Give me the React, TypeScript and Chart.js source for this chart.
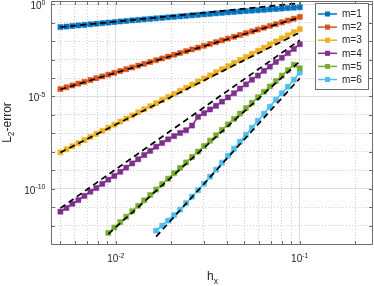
import React, { useEffect, useRef } from 'react';
import { Chart, registerables } from 'chart.js';

Chart.register(...registerables);

// grid spacing h_x (shared by all series)
const hx = [0.005, 0.005389, 0.005808, 0.00626, 0.006747, 0.007271, 0.007837, 0.008446, 0.009103, 0.009811,
  0.010574, 0.011397, 0.012283, 0.013238, 0.014267, 0.015377, 0.016572, 0.017861, 0.01925, 0.020747,
  0.022361, 0.0241, 0.025974, 0.027994, 0.030171, 0.032517, 0.035046, 0.037771, 0.040709, 0.043874,
  0.047287, 0.050964, 0.054928, 0.0592, 0.063803, 0.068765, 0.074113, 0.079877, 0.086089, 0.092784, 0.1];

// L2 errors per order m (series m=5 starts at hx[8], m=6 at hx[16])
const errM1 = [0.0575, 0.0617, 0.0662, 0.071, 0.0762, 0.0818, 0.0877, 0.0941, 0.101, 0.1084, 0.1163, 0.1248,
  0.1339, 0.1425, 0.1517, 0.1615, 0.1719, 0.183, 0.1948, 0.2073, 0.2207, 0.2349, 0.25, 0.2661, 0.2832, 0.3015,
  0.3209, 0.3415, 0.3635, 0.3833, 0.4041, 0.4261, 0.4493, 0.4737, 0.4995, 0.5267, 0.5553, 0.5855, 0.6174,
  0.651, 0.6864];
const errM2 = [2.52e-5, 3.15e-5, 3.95e-5, 4.95e-5, 6.2e-5, 7.76e-5, 9.72e-5, 1.217e-4, 1.524e-4, 1.909e-4,
  2.391e-4, 2.994e-4, 3.75e-4, 4.697e-4, 5.882e-4, 7.367e-4, 9.226e-4, 1.155e-3, 1.447e-3, 1.812e-3, 2.27e-3,
  2.843e-3, 3.56e-3, 4.459e-3, 5.584e-3, 6.994e-3, 8.759e-3, 1.097e-2, 1.374e-2, 1.721e-2, 2.155e-2, 2.699e-2,
  3.38e-2, 4.233e-2, 5.302e-2, 6.64e-2, 8.316e-2, 0.1041, 0.1304, 0.1633, 0.2046];
const errM3 = [9.25e-9, 1.358e-8, 1.995e-8, 2.931e-8, 4.306e-8, 6.34e-8, 9.31e-8, 1.368e-7, 2.01e-7, 2.952e-7,
  4.34e-7, 6.37e-7, 9.36e-7, 1.375e-6, 2.02e-6, 2.97e-6, 4.36e-6, 6.41e-6, 9.42e-6, 1.384e-5, 2.033e-5, 2.99e-5,
  4.39e-5, 6.45e-5, 9.46e-5, 1.39e-4, 2.046e-4, 3.006e-4, 4.416e-4, 6.49e-4, 9.53e-4, 1.4e-3, 2.056e-3, 3.02e-3,
  4.436e-3, 6.52e-3, 9.59e-3, 1.409e-2, 2.07e-2, 3.041e-2, 4.467e-2];
const errM4 = [5.68e-12, 8.99e-12, 1.517e-11, 2.404e-11, 4.055e-11, 6.84e-11, 1.084e-10, 1.828e-10, 3.083e-10,
  4.887e-10, 8.24e-10, 1.387e-9, 2.339e-9, 3.945e-9, 6.65e-9, 1.122e-8, 1.892e-8, 2.999e-8, 4.753e-8, 7.08e-8,
  1.054e-7, 1.472e-7, 2.649e-7, 7.82e-7, 1.239e-6, 1.963e-6, 3.112e-6, 5.248e-6, 8.85e-6, 1.493e-5, 2.679e-5,
  4.519e-5, 8.11e-5, 1.368e-4, 2.455e-4, 4.14e-4, 7.43e-4, 1.253e-3, 2.249e-3, 3.793e-3, 6.81e-3];
const errM5 = [3.98e-13, 7.83e-13, 1.545e-12, 3.041e-12, 5.98e-12, 1.178e-11, 2.317e-11, 4.56e-11, 8.97e-11,
  1.77e-10, 3.483e-10, 6.85e-10, 1.349e-9, 2.655e-9, 5.22e-9, 1.028e-8, 2.028e-8, 3.99e-8, 7.85e-8, 1.545e-7,
  3.041e-7, 5.98e-7, 1.18e-6, 2.323e-6, 4.571e-6, 8.99e-6, 1.77e-5, 3.483e-5, 6.85e-5, 1.352e-4, 2.661e-4,
  5.236e-4, 3.373e-4];
const errM6 = [5.31e-13, 9.91e-13, 1.849e-12, 3.664e-12, 7.28e-12, 1.641e-11, 3.69e-11, 8.3e-11, 1.866e-10,
  4.467e-10, 1.069e-9, 2.559e-9, 6.14e-9, 1.469e-8, 3.516e-8, 8.41e-8, 2.014e-7, 4.83e-7, 1.156e-6, 2.767e-6,
  6.62e-6, 1.489e-5, 3.35e-5, 8.04e-5, 1.995e-4];

const seriesErr = [errM1, errM2, errM3, errM4, errM5, errM6];
const seriesStart = [0, 0, 0, 0, 8, 16];
const seriesLabels = ['m=1', 'm=2', 'm=3', 'm=4', 'm=5', 'm=6'];
const seriesColors = ['#0072BD', '#D95319', '#EDB120', '#7E2F8E', '#77AC30', '#4DBEEE'];

// dashed reference slopes (two end points each)
const refStartH = [0.005, 0.005, 0.005, 0.005, 0.009103, 0.016572];
const refEndH = [0.1, 0.1, 0.1, 0.1, 0.1, 0.1];
const refStartErr = [0.0575, 2.4e-5, 9.25e-9, 8.79e-12, 3.43e-13, 2.51e-13];
const refEndErr = [1.15, 0.192, 0.0296, 1.125e-2, 7.98e-4, 9.7e-5];

// axes
const xMin = 0.0045, xMax = 0.25, yMin = 1e-13, yMax = 1.5;
const xTickValues = [0.005, 0.006, 0.007, 0.008, 0.009, 0.01, 0.02, 0.03, 0.04, 0.05, 0.06, 0.07, 0.08, 0.09, 0.1, 0.2];
const xMajorValues = [0.01, 0.1];
const xTickExps = ['-2', '-1'];
const yTickValues = [1e-13, 1e-12, 1e-11, 1e-10, 1e-9, 1e-8, 1e-7, 1e-6, 1e-5, 1e-4, 1e-3, 1e-2, 1e-1, 1];
const yMajorValues = [1, 1e-5, 1e-10];
const yTickExps = ['0', '-5', '-10'];

const FONT = '"Liberation Sans", Arial, Helvetica, sans-serif';
const TEXT = '#262626';
const AXIS = '#6f6f6f';
const GRID_MAJOR = 'rgba(38,38,38,0.15)';
const GRID_MINOR = 'rgba(38,38,38,0.22)';

const near = (a: number, b: number) => Math.abs(Math.log10(a) - Math.log10(b)) < 1e-6;
const isMajor = (v: number, list: number[]) => list.some((m) => near(v, m));

function drawPow(ctx: CanvasRenderingContext2D, exp: string, x: number, baseY: number, align: 'center' | 'right') {
  ctx.font = `10px ${FONT}`;
  const wb = ctx.measureText('10').width;
  ctx.font = `7px ${FONT}`;
  const we = ctx.measureText(exp).width;
  const total = wb + we;
  const x0 = align === 'center' ? x - total / 2 : x - total;
  ctx.textAlign = 'left';
  ctx.textBaseline = 'alphabetic';
  ctx.font = `10px ${FONT}`;
  ctx.fillText('10', x0, baseY);
  ctx.font = `7px ${FONT}`;
  ctx.fillText(exp, x0 + wb, baseY - 4.5);
}

const decorPlugin = {
  id: 'decor',
  afterDraw(chart: any) {
    const { ctx, chartArea: a, scales } = chart;
    const xs = scales.x, ys = scales.y;
    ctx.save();
    // frame
    ctx.strokeStyle = AXIS;
    ctx.lineWidth = 1;
    const L = Math.round(a.left) - 0.5, R = Math.round(a.right) - 0.5;
    const T = Math.round(a.top) + 0.5, B = Math.round(a.bottom) + 0.5;
    ctx.beginPath();
    ctx.rect(L, T, R - L, B - T);
    ctx.stroke();
    // inward ticks
    ctx.beginPath();
    xTickValues.forEach((v) => {
      const px = Math.round(xs.getPixelForValue(v)) + 0.5;
      ctx.moveTo(px, B); ctx.lineTo(px, B - 3.5);
      ctx.moveTo(px, T); ctx.lineTo(px, T + 3.5);
    });
    yTickValues.forEach((v) => {
      const py = Math.round(ys.getPixelForValue(v)) + 0.5;
      ctx.moveTo(L, py); ctx.lineTo(L + 3.5, py);
      ctx.moveTo(R, py); ctx.lineTo(R - 3.5, py);
    });
    ctx.stroke();
    // tick labels
    ctx.fillStyle = TEXT;
    xMajorValues.forEach((v, i) => drawPow(ctx, xTickExps[i], xs.getPixelForValue(v), 262, 'center'));
    yMajorValues.forEach((v, i) => drawPow(ctx, yTickExps[i], 45.5, ys.getPixelForValue(v) + 5, 'right'));
    // x title h_x
    ctx.textAlign = 'left';
    ctx.textBaseline = 'alphabetic';
    ctx.font = `12px ${FONT}`;
    const wh = ctx.measureText('h').width;
    ctx.font = `8.5px ${FONT}`;
    const wx = ctx.measureText('x').width;
    const cx = (a.left + a.right) / 2;
    const hx0 = cx - (wh + wx) / 2;
    ctx.font = `12px ${FONT}`;
    ctx.fillText('h', hx0, 280);
    ctx.font = `8.5px ${FONT}`;
    ctx.fillText('x', hx0 + wh, 284);
    // y title L_2-error
    ctx.save();
    ctx.translate(11, (a.top + a.bottom) / 2);
    ctx.rotate(-Math.PI / 2);
    ctx.font = `12px ${FONT}`;
    const wL = ctx.measureText('L').width;
    const wr = ctx.measureText('-error').width;
    ctx.font = `8.5px ${FONT}`;
    const w2 = ctx.measureText('2').width;
    let tx = -(wL + w2 + wr) / 2;
    ctx.font = `12px ${FONT}`;
    ctx.fillText('L', tx, 0);
    tx += wL;
    ctx.font = `8.5px ${FONT}`;
    ctx.fillText('2', tx, 3);
    tx += w2;
    ctx.font = `12px ${FONT}`;
    ctx.fillText('-error', tx, 0);
    ctx.restore();
    // legend
    const bx = 315.5, by = 3.5, bw = 53, bh = 86;
    ctx.fillStyle = '#ffffff';
    ctx.fillRect(bx, by, bw, bh);
    ctx.strokeStyle = AXIS;
    ctx.lineWidth = 1;
    ctx.strokeRect(bx, by, bw, bh);
    ctx.font = `10px ${FONT}`;
    ctx.textBaseline = 'middle';
    seriesLabels.forEach((lab, i) => {
      const y = 14 + i * 13.1;
      ctx.strokeStyle = seriesColors[i];
      ctx.lineWidth = 1.5;
      ctx.beginPath();
      ctx.moveTo(318, y); ctx.lineTo(337, y);
      ctx.stroke();
      ctx.fillStyle = seriesColors[i];
      ctx.fillRect(327.5 - 2.5, y - 2.5, 5, 5);
      ctx.fillStyle = TEXT;
      ctx.fillText(lab, 342, y + 0.5);
    });
    ctx.restore();
  },
};

export default function App() {
  const ref = useRef<HTMLCanvasElement>(null);
  useEffect(() => {
    const dataSets: any[] = seriesErr.map((err, i) => ({
      label: seriesLabels[i],
      data: err.map((e, j) => ({ x: hx[seriesStart[i] + j], y: e })),
      borderColor: seriesColors[i],
      backgroundColor: seriesColors[i],
      pointBackgroundColor: seriesColors[i],
      pointBorderColor: seriesColors[i],
      borderWidth: 1.5,
      pointStyle: 'rect',
      pointRadius: 3.6,
      pointBorderWidth: 0.5,
      tension: 0,
      order: 1,
    }));
    refStartH.forEach((h0, i) => {
      dataSets.push({
        label: 'ref' + (i + 1),
        data: [{ x: h0, y: refStartErr[i] }, { x: refEndH[i], y: refEndErr[i] }],
        borderColor: '#000000',
        borderWidth: 1.7,
        borderDash: [6, 4],
        pointRadius: 0,
        tension: 0,
        order: 0,
      });
    });
    const chart = new Chart(ref.current as HTMLCanvasElement, {
      type: 'line',
      data: { datasets: dataSets },
      options: {
        responsive: false,
        animation: false,
        layout: { autoPadding: false, padding: { top: 1, right: 1, left: 0, bottom: 0 } },
        plugins: { legend: { display: false }, tooltip: { enabled: false } },
        scales: {
          x: {
            type: 'logarithmic',
            min: xMin,
            max: xMax,
            afterBuildTicks: (s: any) => { s.ticks = xTickValues.map((v) => ({ value: v })); },
            afterFit: (s: any) => { s.height = 42; },
            ticks: { display: false },
            grid: {
              color: (c: any) => (c.tick && isMajor(c.tick.value, xMajorValues) ? GRID_MAJOR : GRID_MINOR),
              lineWidth: 1,
              drawTicks: false,
            },
            border: { display: false, dash: (c: any) => (c.tick && !isMajor(c.tick.value, xMajorValues) ? [1, 2] : []) },
          },
          y: {
            type: 'logarithmic',
            min: yMin,
            max: yMax,
            afterBuildTicks: (s: any) => { s.ticks = yTickValues.map((v) => ({ value: v })); },
            afterFit: (s: any) => { s.width = 52; },
            ticks: { display: false },
            grid: {
              color: (c: any) => (c.tick && isMajor(c.tick.value, yMajorValues) ? GRID_MAJOR : GRID_MINOR),
              lineWidth: 1,
              drawTicks: false,
            },
            border: { display: false, dash: (c: any) => (c.tick && !isMajor(c.tick.value, yMajorValues) ? [1, 2] : []) },
          },
        },
      } as any,
      plugins: [decorPlugin],
    });
    return () => chart.destroy();
  }, []);
  return (
    <div style={{ position: 'absolute', left: 0, top: 0, width: 374, height: 286, background: '#fff' }}>
      <canvas ref={ref} width={374} height={286} style={{ display: 'block', width: 374, height: 286 }} />
    </div>
  );
}
